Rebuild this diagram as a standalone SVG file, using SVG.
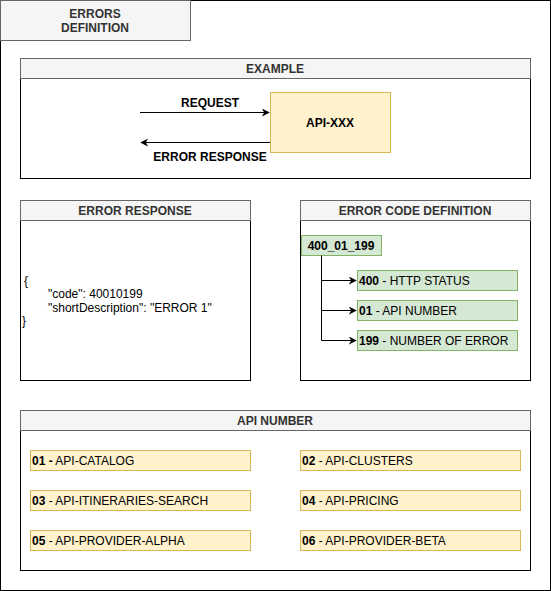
<svg xmlns="http://www.w3.org/2000/svg" width="551" height="591" viewBox="0 0 551 591">
<style>
text{font-family:"Liberation Sans",Arial,sans-serif;font-size:12px}
.b{font-weight:bold}
.h{fill:#333;font-weight:bold;text-anchor:middle}
.hd{fill:#f5f5f5;stroke:#666;stroke-width:1}
.bd{fill:#fff;stroke:#000;stroke-width:1}
.y{fill:#fff2cc;stroke:#d6b656;stroke-width:1}
.g{fill:#d5e8d4;stroke:#82b366;stroke-width:1}
.c{fill:none;stroke:#000;stroke-width:1}
</style>
<defs>
<marker id="ar" viewBox="0 0 10 10" refX="9" refY="5" markerWidth="8" markerHeight="8" orient="auto" markerUnits="userSpaceOnUse">
<path d="M0,0 L10,5 L0,10 L3,5 Z" fill="#000"/>
</marker>
</defs>
<rect x="0.5" y="0.5" width="550" height="590" fill="#fff" stroke="#000"/>
<g id="title">
<rect class="hd" x="0.5" y="0.5" width="190" height="40"/>
<text class="h" x="95" y="18">ERRORS</text>
<text class="h" x="95" y="32">DEFINITION</text>
</g>
<g id="example">
<rect class="bd" x="20.5" y="78.5" width="510" height="100"/>
<rect class="hd" x="20.5" y="58.5" width="510" height="20"/>
<text class="h" x="275" y="73">EXAMPLE</text>
</g>
<g id="api-xxx">
<rect class="y" x="270.5" y="92.5" width="120" height="60"/>
<text class="b" x="330" y="127" text-anchor="middle" fill="#000">API-XXX</text>
</g>
<g id="error-response">
<rect class="bd" x="20.5" y="220.5" width="230" height="160"/>
<rect class="hd" x="20.5" y="200.5" width="230" height="20"/>
<text class="h" x="135" y="215">ERROR RESPONSE</text>
<text x="24" y="285">{</text>
<text x="48" y="298">"code": 40010199</text>
<text x="48" y="312">"shortDescription": "ERROR 1"</text>
<text x="22" y="325">}</text>
</g>
<g id="error-code-definition">
<rect class="bd" x="300.5" y="220.5" width="230" height="160"/>
<rect class="hd" x="300.5" y="200.5" width="230" height="20"/>
<text class="h" x="415" y="215">ERROR CODE DEFINITION</text>
</g>
<g id="code">
<rect class="g" x="301.5" y="235.5" width="80" height="20"/>
<text class="b" x="341" y="250" text-anchor="middle">400_01_199</text>
</g>
<g id="http-status">
<rect class="g" x="357.5" y="270.5" width="160" height="20"/>
<text x="359" y="285"><tspan class="b">400</tspan> - HTTP STATUS</text>
</g>
<g id="api-number-item">
<rect class="g" x="357.5" y="300.5" width="160" height="20"/>
<text x="359" y="315"><tspan class="b">01</tspan> - API NUMBER</text>
</g>
<g id="number-of-error">
<rect class="g" x="357.5" y="330.5" width="160" height="20"/>
<text x="359" y="345"><tspan class="b">199</tspan> - NUMBER OF ERROR</text>
</g>
<g id="api-number">
<rect class="bd" x="20.5" y="430.5" width="510" height="140"/>
<rect class="hd" x="20.5" y="410.5" width="510" height="20"/>
<text class="h" x="275" y="425">API NUMBER</text>
</g>
<g id="api-01">
<rect class="y" x="30.5" y="450.5" width="220" height="20"/>
<text x="32" y="465"><tspan class="b">01 -</tspan> API-CATALOG</text>
</g>
<g id="api-02">
<rect class="y" x="300.5" y="450.5" width="220" height="20"/>
<text x="302" y="465"><tspan class="b">02</tspan> - API-CLUSTERS</text>
</g>
<g id="api-03">
<rect class="y" x="30.5" y="490.5" width="220" height="20"/>
<text x="32" y="505"><tspan class="b">03</tspan> - API-ITINERARIES-SEARCH</text>
</g>
<g id="api-04">
<rect class="y" x="300.5" y="490.5" width="220" height="20"/>
<text x="302" y="505"><tspan class="b">04</tspan> - API-PRICING</text>
</g>
<g id="api-05">
<rect class="y" x="30.5" y="530.5" width="220" height="20"/>
<text x="32" y="545"><tspan class="b">05</tspan> - API-PROVIDER-ALPHA</text>
</g>
<g id="api-06">
<rect class="y" x="300.5" y="530.5" width="220" height="20"/>
<text x="302" y="545"><tspan class="b">06</tspan> - API-PROVIDER-BETA</text>
</g>
<g id="connectors">
<path class="c" d="M140,112.5 H269" marker-end="url(#ar)"/>
<text class="b" x="210" y="107" text-anchor="middle">REQUEST</text>
<path class="c" d="M270,142.5 H141" marker-end="url(#ar)"/>
<text class="b" x="210" y="161" text-anchor="middle">ERROR RESPONSE</text>
<path class="c" d="M321.5,255.5 V280.5 H356" marker-end="url(#ar)"/>
<path class="c" d="M321.5,280.5 V310.5 H356" marker-end="url(#ar)"/>
<path class="c" d="M321.5,310.5 V340.5 H356" marker-end="url(#ar)"/>
</g>
</svg>
